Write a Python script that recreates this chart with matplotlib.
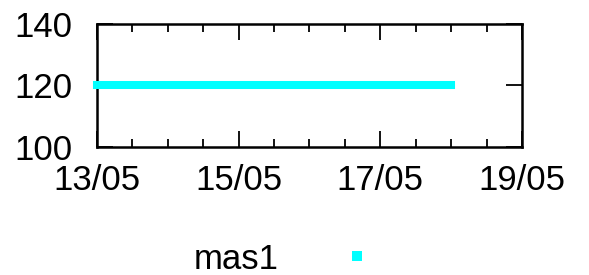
import datetime as dt
import matplotlib
matplotlib.use("Agg")
import matplotlib.pyplot as plt
import matplotlib.dates as mdates
from matplotlib.lines import Line2D

plt.rcParams['font.family'] = ['Liberation Sans', 'DejaVu Sans']

# data
dates = [dt.datetime(2024, 5, 13), dt.datetime(2024, 5, 18)]
mas1 = [120, 120]
x_range = [dt.datetime(2024, 5, 13), dt.datetime(2024, 5, 19)]
y_range = [100, 140]
y_ticks = [100, 120, 140]
series_name = 'mas1'
line_color = '#00ffff'

fig = plt.figure(figsize=(5.89, 2.75), dpi=100)
ax = fig.add_axes([0.1647, 0.4655, 0.7215, 0.4472])

# line sits on top of the frame, like gnuplot draws it
ax.plot(dates, mas1, color=line_color, lw=5.8, solid_capstyle='projecting',
        clip_on=False, zorder=5)

ax.set_xlim(x_range)
ax.set_ylim(y_range)
ax.set_yticks(y_ticks)
ax.xaxis.set_major_locator(mdates.DayLocator(bymonthday=[13, 15, 17, 19]))
ax.xaxis.set_major_formatter(mdates.DateFormatter('%d/%m'))
ax.xaxis.set_minor_locator(mdates.HourLocator(byhour=[0, 12]))

for s in ax.spines.values():
    s.set_linewidth(1.8)
    s.set_zorder(3)
ax.tick_params(which='both', direction='in', top=True, right=True,
               labelsize=25, width=1.3, color='black')
ax.tick_params(which='major', length=11.5)
ax.tick_params(which='minor', length=5.8)
ax.tick_params(axis='x', pad=12)
ax.tick_params(axis='y', pad=18)

handle = Line2D([], [], color=line_color, marker='s', ls='none',
                markersize=6.5, markeredgewidth=0)
fig.legend([handle], [series_name], loc='center', bbox_to_anchor=(0.497, 0.058),
           frameon=False, markerfirst=False, fontsize=25, handletextpad=1.25,
           borderpad=0)

fig.savefig('out.png', dpi=100)
